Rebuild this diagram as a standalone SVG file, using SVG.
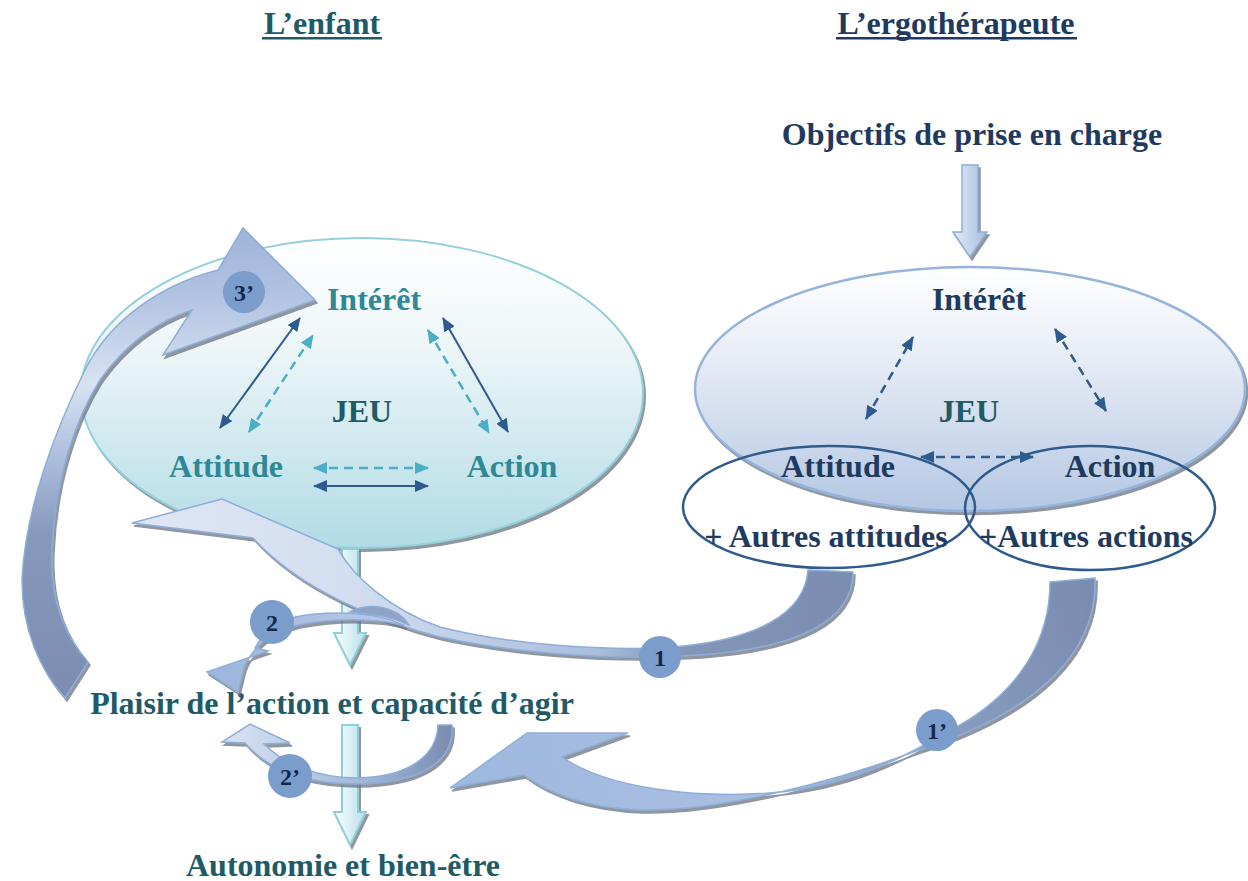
<svg xmlns="http://www.w3.org/2000/svg" width="1248" height="881" viewBox="0 0 1248 881">
<defs>
<style>
text{font-family:"Liberation Serif","Times New Roman",serif;font-weight:bold;font-size:32px;text-anchor:middle}
.tl{fill:#2e8896}
.td{fill:#1e5b66}
.tn{fill:#1f3a5f}
.num{font-size:24px;fill:#16284a}
.badge{fill:#7b9dcb}
.sol{stroke:#2f5a8e;stroke-width:2;fill:none}
.dl{stroke:#4aaec6;stroke-width:2.5;fill:none;stroke-dasharray:9 6}
.dn{stroke:#2f5a8e;stroke-width:2.5;fill:none;stroke-dasharray:9 6}
.cv{stroke:#8eaed8;stroke-width:1.5}
</style>
<filter id="sh" x="-10%" y="-10%" width="130%" height="130%">
<feDropShadow dx="2" dy="3" stdDeviation="0.6" flood-color="#6b7380" flood-opacity="0.75"/>
</filter>
<marker id="mn" viewBox="0 0 14 12" markerWidth="14" markerHeight="12" markerUnits="userSpaceOnUse" refX="13" refY="6" orient="auto-start-reverse"><path d="M0,0 L14,6 L0,12 Z" fill="#2f5a8e"/></marker>
<marker id="ml" viewBox="0 0 14 12" markerWidth="14" markerHeight="12" markerUnits="userSpaceOnUse" refX="13" refY="6" orient="auto-start-reverse"><path d="M0,0 L14,6 L0,12 Z" fill="#4aaec6"/></marker>
<linearGradient id="gL" x1="0" y1="0" x2="0" y2="1"><stop offset="0" stop-color="#ffffff"/><stop offset="0.35" stop-color="#edf6f8"/><stop offset="1" stop-color="#b1dbe5"/></linearGradient>
<linearGradient id="gR" x1="0" y1="0" x2="0" y2="1"><stop offset="0" stop-color="#ffffff"/><stop offset="0.4" stop-color="#e5ebf5"/><stop offset="1" stop-color="#b4c7e3"/></linearGradient>
<linearGradient id="gV" x1="0" y1="0" x2="1" y2="0"><stop offset="0" stop-color="#ffffff"/><stop offset="1" stop-color="#b3dfe7"/></linearGradient>
<linearGradient id="gT" x1="0" y1="0" x2="1" y2="0"><stop offset="0" stop-color="#e3ebf6"/><stop offset="1" stop-color="#a5bde0"/></linearGradient>
<linearGradient id="g3" gradientUnits="userSpaceOnUse" x1="0" y1="228" x2="0" y2="700"><stop offset="0" stop-color="#9db3d9"/><stop offset="0.15" stop-color="#b3c4e2"/><stop offset="0.33" stop-color="#d8e2f1"/><stop offset="0.5" stop-color="#a9bbdb"/><stop offset="0.65" stop-color="#8799bb"/><stop offset="1" stop-color="#7a8db0"/></linearGradient>
<linearGradient id="g1" gradientUnits="userSpaceOnUse" x1="850" y1="0" x2="132" y2="0"><stop offset="0" stop-color="#7a8db0"/><stop offset="0.25" stop-color="#8597b8"/><stop offset="0.35" stop-color="#a9bddd"/><stop offset="0.7" stop-color="#d3def0"/><stop offset="1" stop-color="#dfe7f4"/></linearGradient>
<linearGradient id="g1p" gradientUnits="userSpaceOnUse" x1="1080" y1="580" x2="450" y2="780"><stop offset="0" stop-color="#7a8db0"/><stop offset="0.35" stop-color="#8da2c6"/><stop offset="0.55" stop-color="#a9bfe1"/><stop offset="1" stop-color="#9fb8df"/></linearGradient>
<linearGradient id="g2p" gradientUnits="userSpaceOnUse" x1="450" y1="725" x2="222" y2="740"><stop offset="0" stop-color="#7a8db0"/><stop offset="0.4" stop-color="#a2b7da"/><stop offset="1" stop-color="#dbe4f3"/></linearGradient>
<linearGradient id="g2" gradientUnits="userSpaceOnUse" x1="410" y1="620" x2="207" y2="672"><stop offset="0" stop-color="#b9cae6"/><stop offset="1" stop-color="#9db5dc"/></linearGradient>
</defs>

<rect width="1248" height="881" fill="#ffffff"/>

<g id="title-enfant">
<text x="322" y="34" class="td">L’enfant</text>
<rect x="262" y="37" width="120" height="2.5" fill="#1e5b66"/>
</g>
<g id="title-ergo">
<text x="956" y="34" class="tn">L’ergothérapeute</text>
<rect x="836" y="37" width="241" height="2.5" fill="#1f3a5f"/>
</g>

<g id="objectifs">
<text x="972" y="145" class="tn">Objectifs de prise en charge</text>
</g>

<g id="jeu-enfant">
<ellipse cx="362" cy="393" rx="281" ry="155" fill="url(#gL)" stroke="#94d0da" stroke-width="2" filter="url(#sh)"/>
<text x="374" y="310" class="tl">Intérêt</text>
<text x="362" y="422" class="td">JEU</text>
<text x="226" y="477" class="tl">Attitude</text>
<text x="512" y="477" class="tl">Action</text>
<line x1="220" y1="428" x2="300" y2="318" class="sol" marker-start="url(#mn)" marker-end="url(#mn)"/>
<line x1="249" y1="432" x2="313" y2="335" class="dl" marker-start="url(#ml)" marker-end="url(#ml)"/>
<line x1="428" y1="330" x2="489" y2="433" class="dl" marker-start="url(#ml)" marker-end="url(#ml)"/>
<line x1="443" y1="318" x2="508" y2="432" class="sol" marker-start="url(#mn)" marker-end="url(#mn)"/>
<line x1="314" y1="468" x2="428" y2="468" class="dl" marker-start="url(#ml)" marker-end="url(#ml)"/>
<line x1="314" y1="486" x2="428" y2="486" class="sol" marker-start="url(#mn)" marker-end="url(#mn)"/>
</g>

<g id="jeu-ergo">
<ellipse cx="970" cy="389" rx="275" ry="122" fill="url(#gR)" stroke="#95b3dc" stroke-width="2.5" filter="url(#sh)"/>
<text x="979" y="310" class="tn">Intérêt</text>
<text x="969" y="422" class="td">JEU</text>
<text x="838" y="477" class="tn">Attitude</text>
<text x="1110" y="477" class="tn">Action</text>
<line x1="866" y1="419" x2="913" y2="337" class="dn" marker-start="url(#mn)" marker-end="url(#mn)"/>
<line x1="1055" y1="329" x2="1106" y2="411" class="dn" marker-start="url(#mn)" marker-end="url(#mn)"/>
<line x1="921" y1="457" x2="1033" y2="457" class="dn" marker-start="url(#mn)" marker-end="url(#mn)"/>
</g>

<g id="autres-attitudes">
<ellipse cx="829" cy="507" rx="146" ry="61" fill="none" stroke="#2f5a8e" stroke-width="2.5"/>
<text x="826" y="547" class="tn">+ Autres attitudes</text>
</g>
<g id="autres-actions">
<ellipse cx="1090" cy="508" rx="125" ry="62" fill="none" stroke="#2f5a8e" stroke-width="2.5"/>
<text x="1086" y="547" class="tn">+Autres actions</text>
</g>

<g id="plaisir">
<text x="332" y="714" class="td">Plaisir de l’action et capacité d’agir</text>
</g>
<g id="autonomie">
<text x="343" y="876" class="td">Autonomie et bien-être</text>
</g>

<g id="connectors">
<path d="M962,165 H978 V232 H987 L970,257 L953,232 H962 Z" fill="url(#gT)" stroke="#8eaed8" stroke-width="1.5" filter="url(#sh)"/>
<path d="M342,549 H358 V633 H366 L350,665 L334,633 H342 Z" fill="url(#gV)" stroke="#8fcfd9" stroke-width="2" filter="url(#sh)"/>
<path d="M342,725 H358 V812 H366 L350,845 L334,812 H342 Z" fill="url(#gV)" stroke="#8fcfd9" stroke-width="2" filter="url(#sh)"/>

<path d="M315,300 L243,228 L218,270 C160,285 110,320 85,370 C55,430 25,510 22,580 C22,630 40,670 65,698 L88,662 C60,630 50,590 52,550 C55,480 75,420 100,380 C125,345 155,322 192,310 L163,355 Z" fill="url(#g3)" class="cv" filter="url(#sh)"/>

<path d="M808,570 L853,572 C853,620 800,648 700,655 C600,662 500,650 440,637 C380,622 300,590 253,538 L213,533 L132,523 L222,499 L338,549 C352,575 390,610 440,627 C510,645 600,650 660,648 C760,642 805,612 808,570 Z" fill="url(#g1)" class="cv" filter="url(#sh)"/>

<path d="M1050,582 L1095,578 C1098,650 1040,712 916,751 C840,780 720,812 640,810 C590,808 550,795 524,775 L450,788 L527,733 L628,733 L562,757 C610,790 700,798 770,793 C850,786 900,760 960,725 C1020,690 1050,640 1050,582 Z" fill="url(#g1p)" class="cv" filter="url(#sh)"/>

<path d="M405,626 C380,612 330,610 295,617 C275,622 262,635 255,648 L268,651 L207,672 L238,692 L244,668 C252,648 270,632 298,625 C335,618 380,618 405,626 Z" fill="url(#g2)" class="cv" filter="url(#sh)"/>
<path d="M350,612 C370,602 398,606 409,625 C392,617 372,613 350,612 Z" fill="#8ea3c6" class="cv"/>

<path d="M438,725 L452,725 C455,762 420,783 357,784 C310,784 270,772 245,743 L222,742 L250,724 L290,743 L264,744 C285,765 320,778 357,778 C410,777 437,755 438,725 Z" fill="url(#g2p)" class="cv" filter="url(#sh)"/>
</g>

<g id="badge-3p"><circle cx="244" cy="292" r="21" class="badge"/><text x="244" y="301" class="num">3’</text></g>
<g id="badge-1"><circle cx="660" cy="657" r="21" class="badge"/><text x="660" y="666" class="num">1</text></g>
<g id="badge-1p"><circle cx="937" cy="730" r="21" class="badge"/><text x="937" y="739" class="num">1’</text></g>
<g id="badge-2"><circle cx="272" cy="622" r="22" class="badge"/><text x="272" y="631" class="num">2</text></g>
<g id="badge-2p"><circle cx="290" cy="776" r="22" class="badge"/><text x="290" y="785" class="num">2’</text></g>
</svg>
